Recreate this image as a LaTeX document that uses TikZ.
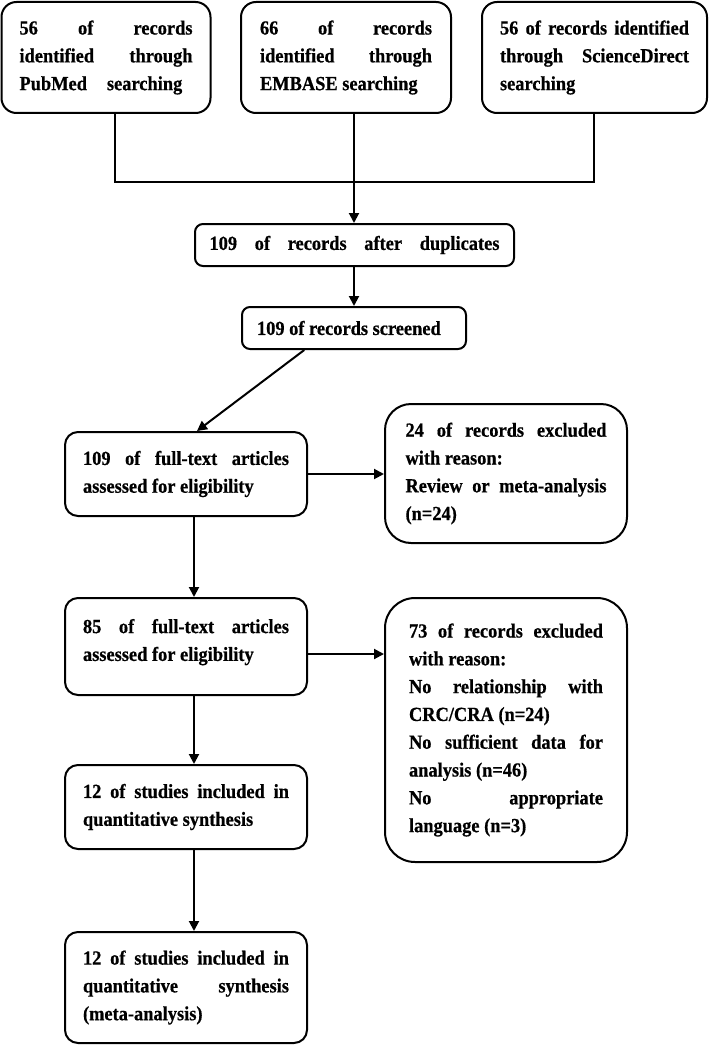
\documentclass[tikz,border=0pt]{standalone}
\usepackage{fontspec}
\setmainfont{Liberation Serif}[FakeStretch=0.92,BoldFeatures={FakeBold=0.6}]
\usetikzlibrary{arrows.meta,calc}
\newcommand\myparams{\tolerance=10000\relax\hbadness=10000\relax\hyphenpenalty=10000\relax}
\begin{document}
\begin{tikzpicture}[x=1pt,y=-1pt,
  boxbase/.style={draw, line width=2pt, inner sep=0pt,
    font=\bfseries\fontsize{20}{27.8}\selectfont\myparams},
  box/.style={boxbase, align=justify},
  arr/.style={line width=2pt, -{Triangle[length=10pt,width=10pt]}},
  ln/.style={line width=2pt}]
\useasboundingbox (0,0) rectangle (709,1046);
\fill[white] (0,0) rectangle (709,1046);

\node[box, rounded corners=15pt, minimum width=209pt, minimum height=111pt, text width=173pt] (b1) at (106,57.5)
  {56 of records\linebreak identified through\linebreak PubMed\hspace{20pt}searching};
\node[box, rounded corners=15pt, minimum width=210pt, minimum height=111pt, text width=172pt] (b2) at (346,57.5)
  {66 of records\linebreak identified through\linebreak EMBASE searching};
\node[box, rounded corners=15pt, minimum width=225pt, minimum height=111pt, text width=189pt] (b3) at (594.5,57.5)
  {56 of records identified\linebreak through ScienceDirect\linebreak searching};

\node[box, rounded corners=8pt, minimum width=319pt, minimum height=42pt, text width=290pt] (b4) at (354.5,245)
  {\parfillskip=0pt\relax 109 of records after duplicates\par};
\node[box, rounded corners=8pt, minimum width=224pt, minimum height=42pt, text width=194pt] (b5) at (354,328)
  {109 of records screened};

\node[box, rounded corners=13pt, minimum width=242pt, minimum height=84pt, text width=206pt] (b6) at (186,474)
  {109 of full-text articles\linebreak assessed for eligibility};
\node[box, rounded corners=26pt, minimum width=242pt, minimum height=139pt, text width=201pt] (b7) at (506,473.5)
  {24 of records excluded\linebreak with reason:\\ Review or meta-analysis\linebreak (n=24)};

\node[boxbase, rounded corners=13pt, minimum width=242pt, minimum height=97pt] (b8) at (186,646.5)
  {\parbox[c][55pt][t]{206pt}{\myparams 85 of full-text articles\linebreak assessed for eligibility}};
\node[box, rounded corners=30pt, minimum width=242pt, minimum height=264pt, text width=194pt] (b9) at (506,730)
  {73 of records excluded\linebreak with reason:\\ No relationship with\linebreak CRC/CRA (n=24)\\ No sufficient data for\linebreak analysis (n=46)\\ No appropriate\linebreak language (n=3)};

\node[box, rounded corners=13pt, minimum width=242pt, minimum height=84pt, text width=206pt] (b10) at (186,807)
  {12 of studies included in\linebreak quantitative synthesis};
\node[box, rounded corners=13pt, minimum width=242pt, minimum height=111pt, text width=206pt] (b11) at (186,987.5)
  {12 of studies included in\linebreak quantitative synthesis\linebreak (meta-analysis)};

\coordinate (j1) at (115,182);
\coordinate (j2) at (354,182);
\coordinate (j3) at (594,182);
\coordinate (c2) at (194,0);

\draw[ln] (b1.south -| j1) -- (j1) -- (j3) -- (b3.south -| j3);
\draw[ln] (b2.south -| j2) -- (j2);
\draw[arr] (j2) -- (b4.north -| j2);
\draw[arr] (b4.south -| j2) -- (b5.north -| j2);
\draw[arr] ($(b5.south west)!0.28!(b5.south east)$) -- ($(b6.north west)!0.545!(b6.north east)$);
\draw[arr] (b6.east) -- (b6.east -| b7.west);
\draw[arr] (b6.south -| c2) -- (b8.north -| c2);
\draw[arr] ([yshift=-7.5pt]b8.east) -- ([yshift=-7.5pt]b8.east -| b9.west);
\draw[arr] (b8.south -| c2) -- (b10.north -| c2);
\draw[arr] (b10.south -| c2) -- (b11.north -| c2);
\end{tikzpicture}
\end{document}
